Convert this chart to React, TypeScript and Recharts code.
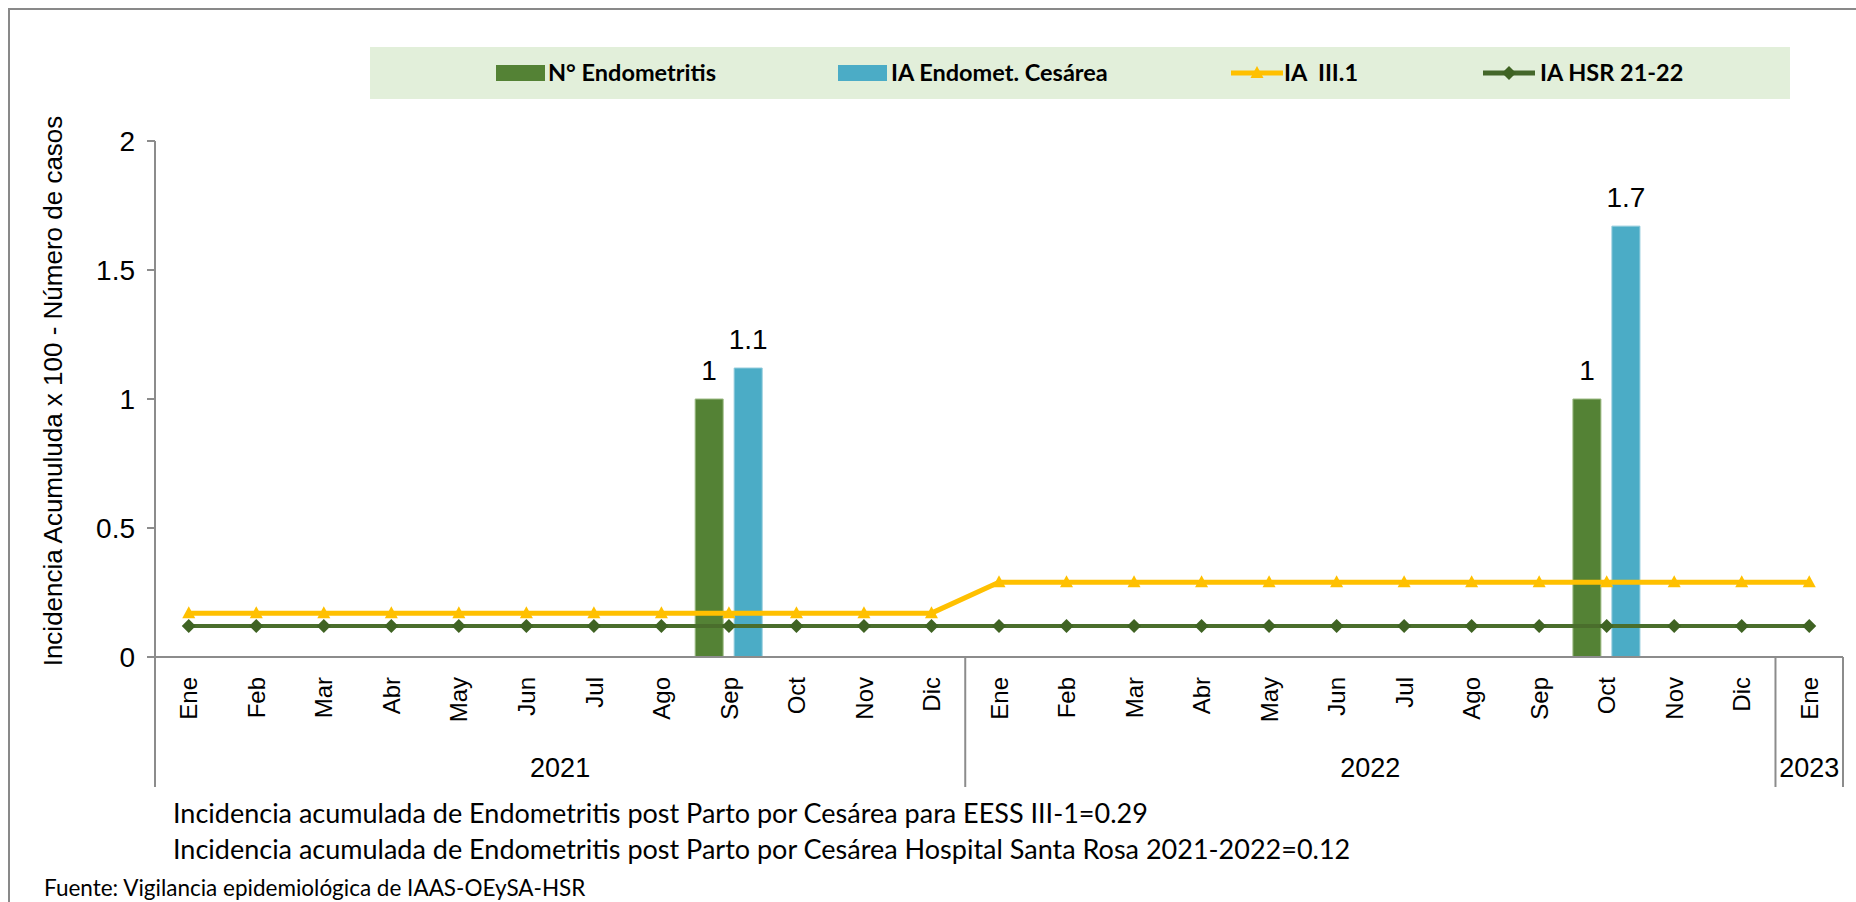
import React from "react";
import {
  Bar,
  ComposedChart,
  LabelList,
  Line,
  XAxis,
  YAxis,
} from "recharts";

const months = [
  "Ene", "Feb", "Mar", "Abr", "May", "Jun", "Jul", "Ago", "Sep", "Oct", "Nov", "Dic",
  "Ene", "Feb", "Mar", "Abr", "May", "Jun", "Jul", "Ago", "Sep", "Oct", "Nov", "Dic",
  "Ene",
];
const years = ["2021", "2022", "2023"];
const monthsPerYear = [12, 12, 1];

const endometritis = [
  null, null, null, null, null, null, null, null, 1, null, null, null,
  null, null, null, null, null, null, null, null, null, 1, null, null,
  null,
];
const iaCesarea = [
  null, null, null, null, null, null, null, null, 1.12, null, null, null,
  null, null, null, null, null, null, null, null, null, 1.67, null, null,
  null,
];
const iaIII1 = [
  0.17, 0.17, 0.17, 0.17, 0.17, 0.17, 0.17, 0.17, 0.17, 0.17, 0.17, 0.17,
  0.29, 0.29, 0.29, 0.29, 0.29, 0.29, 0.29, 0.29, 0.29, 0.29, 0.29, 0.29,
  0.29,
];
const iaHsr = [
  0.12, 0.12, 0.12, 0.12, 0.12, 0.12, 0.12, 0.12, 0.12, 0.12, 0.12, 0.12,
  0.12, 0.12, 0.12, 0.12, 0.12, 0.12, 0.12, 0.12, 0.12, 0.12, 0.12, 0.12,
  0.12,
];
const yTicks = [0, 0.5, 1, 1.5, 2];

const data = months.map((mes, i) => ({
  mes,
  endometritis: endometritis[i],
  iaCesarea: iaCesarea[i],
  iaIII1: iaIII1[i],
  iaHsr: iaHsr[i],
}));

const W = 1856;
const H = 902;
const PLOT_LEFT = 155;
const PLOT_RIGHT = 13;
const PLOT_TOP = 141;
const X_AXIS_H = 245;
const AXIS_Y = H - X_AXIS_H;
const BAND = (W - PLOT_LEFT - PLOT_RIGHT) / months.length;

const GRAY = "#8c8c8c";
const ARIAL = "'Liberation Sans', Arial, sans-serif";
const CALIBRI = "Lato, 'Noto Sans', sans-serif";

const groupStarts = monthsPerYear.map((_, g) =>
  monthsPerYear.slice(0, g).reduce((a, b) => a + b, 0)
);

function MonthTick(props: any) {
  const { x, index } = props;
  const g = groupStarts.indexOf(index);
  const isLast = index === months.length - 1;
  return (
    <g>
      <g transform={`translate(${x},${AXIS_Y + 20}) rotate(-90)`}>
        <text
          x={0}
          y={0}
          dy="0.36em"
          textAnchor="end"
          fontSize={24}
          fontFamily={ARIAL}
          fill="#000"
        >
          {months[index]}
        </text>
      </g>
      {g >= 0 && (
        <>
          <line
            x1={x - BAND / 2}
            x2={x - BAND / 2}
            y1={AXIS_Y}
            y2={AXIS_Y + 130}
            stroke={GRAY}
            strokeWidth={2}
          />
          <text
            x={x - BAND / 2 + (monthsPerYear[g] * BAND) / 2}
            y={AXIS_Y + 110}
            dy="0.36em"
            textAnchor="middle"
            fontSize={27}
            fontFamily={ARIAL}
            fill="#000"
          >
            {years[g]}
          </text>
        </>
      )}
      {isLast && (
        <line
          x1={x + BAND / 2}
          x2={x + BAND / 2}
          y1={AXIS_Y}
          y2={AXIS_Y + 130}
          stroke={GRAY}
          strokeWidth={2}
        />
      )}
    </g>
  );
}

function Triangle({ cx, cy, fill }: any) {
  if (cx == null || cy == null) return null;
  return (
    <path
      d={`M${cx},${cy - 7} L${cx + 6.5},${cy + 5} L${cx - 6.5},${cy + 5} Z`}
      fill={fill}
    />
  );
}

function Diamond({ cx, cy, fill }: any) {
  if (cx == null || cy == null) return null;
  return (
    <path
      d={`M${cx},${cy - 7} L${cx + 7},${cy} L${cx},${cy + 7} L${cx - 7},${cy} Z`}
      fill={fill}
    />
  );
}

const legendItems = [
  { label: "N° Endometritis", kind: "bar", color: "#548235", left: 126, textLeft: 178 },
  { label: "IA Endomet. Cesárea", kind: "bar", color: "#4bacc6", left: 468, textLeft: 521 },
  { label: "IA  III.1", kind: "tri", color: "#ffc000", left: 861, textLeft: 914 },
  { label: "IA HSR 21-22", kind: "dia", color: "#44672a", left: 1113, textLeft: 1170 },
];

function LegendBox() {
  return (
    <div
      style={{
        position: "absolute",
        left: 370,
        top: 47,
        width: 1420,
        height: 52,
        background: "#e2efda",
      }}
    >
      {legendItems.map((it) => (
        <React.Fragment key={it.label}>
          <svg
            style={{ position: "absolute", left: it.left, top: 16 }}
            width={54}
            height={20}
          >
            {it.kind === "bar" && (
              <rect x={0} y={2} width={49} height={16} fill={it.color} />
            )}
            {it.kind === "tri" && (
              <>
                <line x1={0} x2={52} y1={10} y2={10} stroke={it.color} strokeWidth={5} />
                <Triangle cx={26} cy={10} fill={it.color} />
              </>
            )}
            {it.kind === "dia" && (
              <>
                <line x1={0} x2={52} y1={10} y2={10} stroke={it.color} strokeWidth={5} />
                <Diamond cx={26} cy={10} fill="#3f6323" />
              </>
            )}
          </svg>
          <div
            style={{
              position: "absolute",
              left: it.textLeft,
              top: 26,
              transform: "translateY(-50%)",
              fontFamily: CALIBRI,
              fontWeight: 700,
              fontSize: 23.5,
              whiteSpace: "pre",
              color: "#000",
              lineHeight: 1,
            }}
          >
            {it.label}
          </div>
        </React.Fragment>
      ))}
    </div>
  );
}

export default function App() {
  return (
    <div
      style={{
        position: "absolute",
        left: 0,
        top: 0,
        width: W,
        height: H,
        background: "#fff",
        overflow: "hidden",
      }}
    >
      <div
        style={{
          position: "absolute",
          left: 8,
          top: 8,
          width: W + 20,
          height: H + 20,
          border: "2px solid #898989",
        }}
      />
      <ComposedChart
        width={W}
        height={H}
        data={data}
        margin={{ top: PLOT_TOP, right: PLOT_RIGHT, left: 0, bottom: 0 }}
        barGap={11}
        barCategoryGap={0}
      >
        <XAxis
          dataKey="mes"
          height={X_AXIS_H}
          interval={0}
          tickLine={false}
          tickSize={0}
          tickMargin={0}
          tick={<MonthTick />}
          stroke={GRAY}
          strokeWidth={2}
        />
        <YAxis
          width={PLOT_LEFT}
          domain={[0, 2]}
          ticks={yTicks}
          tickSize={8}
          tickMargin={12}
          stroke={GRAY}
          strokeWidth={2}
          tick={{ fontSize: 28, fontFamily: ARIAL, fill: "#000" }}
        />
        <Bar
          dataKey="endometritis"
          fill="#548235"
          stroke="#9dbb85"
          strokeWidth={1}
          barSize={28}
          isAnimationActive={false}
        >
          <LabelList
            dataKey="endometritis"
            position="top"
            offset={19}
            fill="#000"
            fontSize={28}
            fontFamily={ARIAL}
            formatter={(v: any) => (v == null ? "" : String(v))}
          />
        </Bar>
        <Bar
          dataKey="iaCesarea"
          fill="#4bacc6"
          stroke="#8fcadb"
          strokeWidth={1}
          barSize={28}
          isAnimationActive={false}
        >
          <LabelList
            dataKey="iaCesarea"
            position="top"
            offset={19}
            fill="#000"
            fontSize={28}
            fontFamily={ARIAL}
            formatter={(v: any) => (v == null ? "" : Number(v).toFixed(1))}
          />
        </Bar>
        <Line
          type="linear"
          dataKey="iaIII1"
          stroke="#ffc000"
          strokeWidth={5}
          dot={(p: any) => <Triangle key={`t${p.index}`} cx={p.cx} cy={p.cy} fill="#ffc000" />}
          activeDot={false}
          isAnimationActive={false}
        />
        <Line
          type="linear"
          dataKey="iaHsr"
          stroke="#4a6e2c"
          strokeWidth={4}
          dot={(p: any) => <Diamond key={`d${p.index}`} cx={p.cx} cy={p.cy} fill="#3f6323" />}
          activeDot={false}
          isAnimationActive={false}
        />
      </ComposedChart>
      <LegendBox />
      <div
        style={{
          position: "absolute",
          left: 53,
          top: 391,
          transform: "translate(-50%, -50%) rotate(-90deg)",
          whiteSpace: "nowrap",
          fontFamily: ARIAL,
          fontSize: 26,
          lineHeight: 1,
          color: "#000",
        }}
      >
        Incidencia Acumuluda x 100 - Número de casos
      </div>
      <div
        style={{
          position: "absolute",
          left: 173,
          top: 812,
          transform: "translateY(-50%)",
          fontFamily: CALIBRI,
          fontSize: 27,
          lineHeight: 1,
          whiteSpace: "nowrap",
          color: "#000",
        }}
      >
        Incidencia acumulada de Endometritis post Parto por Cesárea para EESS III-1=0.29
      </div>
      <div
        style={{
          position: "absolute",
          left: 173,
          top: 848,
          transform: "translateY(-50%)",
          fontFamily: CALIBRI,
          fontSize: 27,
          lineHeight: 1,
          whiteSpace: "nowrap",
          color: "#000",
        }}
      >
        Incidencia acumulada de Endometritis post Parto por Cesárea Hospital Santa Rosa 2021-2022=0.12
      </div>
      <div
        style={{
          position: "absolute",
          left: 44,
          top: 888,
          transform: "translateY(-50%)",
          fontFamily: CALIBRI,
          fontSize: 22.5,
          lineHeight: 1,
          whiteSpace: "nowrap",
          color: "#000",
        }}
      >
        Fuente: Vigilancia epidemiológica de IAAS-OEySA-HSR
      </div>
    </div>
  );
}
